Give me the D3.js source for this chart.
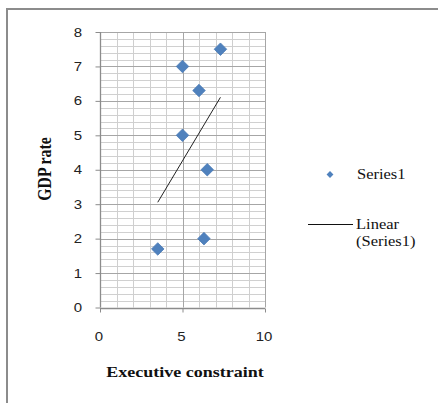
<!DOCTYPE html>
<html>
<head>
<meta charset="utf-8">
<script src="https://cdn.jsdelivr.net/npm/d3@7"></script>
<style>
  html, body { margin: 0; padding: 0; background: #fff; }
  svg { display: block; }
</style>
</head>
<body>
<svg id="chart" width="438" height="403"></svg>
<script>
// Executive constraint vs. GDP rate
const execConstraint = [3.5, 5, 5, 6, 6.5, 6.3, 7.3];
const gdpRate = [1.7, 7, 5, 6.3, 4, 2, 7.5];
const xTicks = [0, 5, 10];
const yTicks = [0, 1, 2, 3, 4, 5, 6, 7, 8];
const seriesName = "Series1";
const trendName = ["Linear", "(Series1)"];

const svg = d3.select("#chart");
const serif = "'Liberation Serif', 'Times New Roman', serif";
const sans = "'Liberation Sans', Arial, sans-serif";
const stretch = 1.2; // glyphs are drawn slightly wide

// text drawn at (tx, ty) and widened horizontally
function wideText(parent, tx, ty, str, opts) {
  const g = parent.append("g")
    .attr("transform", `translate(${tx},${ty}) scale(${opts.sx || stretch},1)`);
  return g.append("text")
    .attr("text-anchor", opts.anchor || "start")
    .attr("dominant-baseline", opts.baseline || "auto")
    .attr("fill", opts.fill || "#111")
    .style("font-family", opts.font || serif)
    .style("font-size", (opts.size || 15) + "px")
    .style("font-weight", opts.weight || "normal")
    .text(str);
}

// outer chart frame (only top and left edges fall inside the view)
svg.append("path")
  .attr("d", "M7,403V9H438")
  .attr("fill", "none")
  .attr("stroke", "#8c8c8c").attr("stroke-width", 2);

const x = d3.scaleLinear().domain([0, 10]).range([100, 265]);
const y = d3.scaleLinear().domain([0, 8]).range([307.5, 32]);

const plot = svg.append("g");

// minor horizontal gridlines every 0.2
const minorY = d3.range(0, 8.0001, 0.2).filter(v => Math.abs(v - Math.round(v)) > 1e-6);
plot.selectAll("line.hmin").data(minorY).join("line")
  .attr("x1", x(0)).attr("x2", x(10))
  .attr("y1", d => Math.round(y(d)) + 0.5).attr("y2", d => Math.round(y(d)) + 0.5)
  .attr("stroke", "#d0d0d0").attr("stroke-width", 1);

// vertical gridlines every 1, darker at major step
const vLines = d3.range(1, 11);
plot.selectAll("line.v").data(vLines).join("line")
  .attr("x1", d => Math.round(x(d)) + 0.5).attr("x2", d => Math.round(x(d)) + 0.5)
  .attr("y1", y(8)).attr("y2", y(0))
  .attr("stroke", d => d % 5 === 0 ? "#a6a6a6" : "#cfcfcf").attr("stroke-width", 1);

// major horizontal gridlines
plot.selectAll("line.hmaj").data(yTicks.filter(d => d > 0)).join("line")
  .attr("x1", x(0)).attr("x2", x(10))
  .attr("y1", d => Math.round(y(d)) + 0.5).attr("y2", d => Math.round(y(d)) + 0.5)
  .attr("stroke", "#a6a6a6").attr("stroke-width", 1);

// axes (lines and tick marks from d3-axis, labels drawn widened)
const yAxis = d3.axisLeft(y).tickValues(yTicks).tickSize(5).tickFormat("");
const xAxis = d3.axisBottom(x).tickValues(xTicks).tickSize(4).tickFormat("");

const gy = svg.append("g").attr("transform", `translate(${x(0) + 0.5},0)`).call(yAxis);
const gx = svg.append("g").attr("transform", `translate(0,${Math.round(y(0)) + 0.5})`).call(xAxis);

[gx, gy].forEach(g => {
  g.select(".domain").attr("stroke", "#8c8c8c").attr("stroke-width", 1.3);
  g.selectAll(".tick line").attr("stroke", "#8c8c8c");
});
gx.select(".domain").attr("d", `M${x(0)},0H${x(10)}`);
gy.select(".domain").attr("d", `M0,${y(0)}V${y(8)}`);

yTicks.forEach(t => {
  wideText(svg, 82, y(t) + 4.5, String(t), { font: sans, size: 12.5, anchor: "end", fill: "#222" });
});
xTicks.forEach(t => {
  wideText(svg, x(t) - 1, 341, String(t), { font: sans, size: 12.5, anchor: "middle", fill: "#222" });
});

// linear trendline (least squares fit)
const n = execConstraint.length;
const mx = d3.mean(execConstraint), my = d3.mean(gdpRate);
let sxy = 0, sxx = 0;
for (let i = 0; i < n; i++) {
  sxy += (execConstraint[i] - mx) * (gdpRate[i] - my);
  sxx += (execConstraint[i] - mx) ** 2;
}
const slope = sxy / sxx, intercept = my - slope * mx;
const [xmin, xmax] = d3.extent(execConstraint);
svg.append("line")
  .attr("x1", x(xmin)).attr("y1", y(intercept + slope * xmin))
  .attr("x2", x(xmax)).attr("y2", y(intercept + slope * xmax))
  .attr("stroke", "#222").attr("stroke-width", 1);

// data markers
const diamond = d3.symbol().type(d3.symbolDiamond2).size(100);
svg.selectAll("path.pt").data(execConstraint.map((v, i) => [v, gdpRate[i]])).join("path")
  .attr("transform", d => `translate(${x(d[0])},${y(d[1])})`)
  .attr("d", diamond)
  .attr("fill", "#4f81bd")
  .attr("stroke", "#4a7ab5").attr("stroke-width", 0.8);

// axis titles
wideText(svg, 185, 377, "Executive constraint", { size: 15, weight: "bold", anchor: "middle" });

svg.append("text")
  .attr("transform", "translate(51,169) rotate(-90) scale(1.05,1.2)")
  .attr("text-anchor", "middle")
  .attr("fill", "#111")
  .style("font-family", serif)
  .style("font-weight", "bold").style("font-size", "15px")
  .text("GDP rate");

// legend
svg.append("path")
  .attr("transform", "translate(330,174.5)")
  .attr("d", d3.symbol().type(d3.symbolDiamond2).size(30))
  .attr("fill", "#4f81bd");
wideText(svg, 357, 178.5, seriesName, { size: 15, sx: 1.1 });

svg.append("line")
  .attr("x1", 308).attr("x2", 353)
  .attr("y1", 224.5).attr("y2", 224.5)
  .attr("stroke", "#111").attr("stroke-width", 1);
wideText(svg, 356, 229, trendName[0], { size: 15, sx: 1.1 });
wideText(svg, 356, 245.5, trendName[1], { size: 15, sx: 1.1 });
</script>
</body>
</html>
